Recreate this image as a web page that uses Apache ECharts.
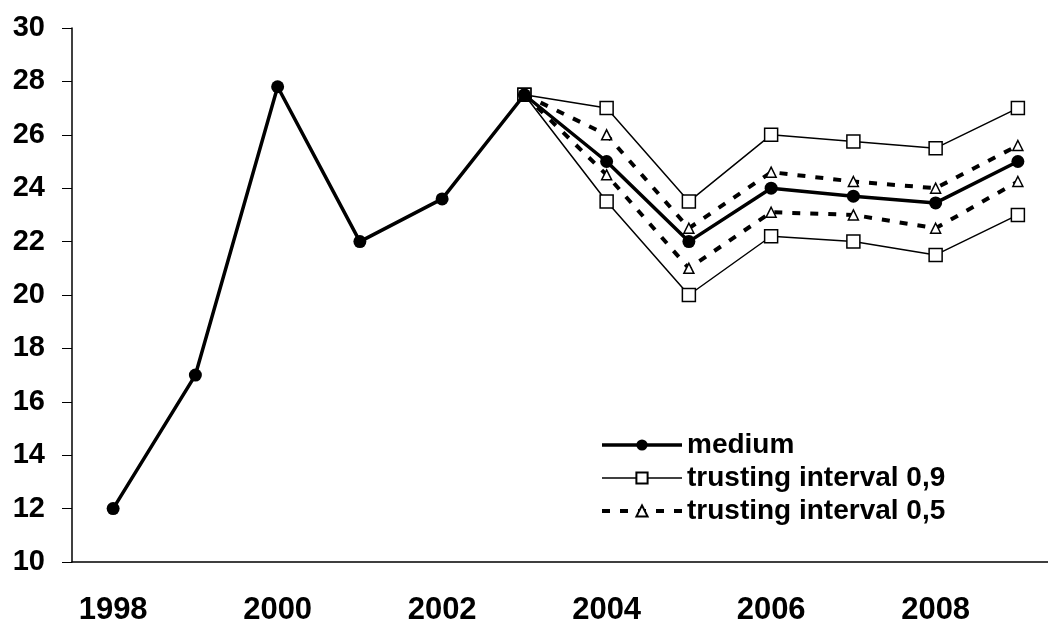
<!DOCTYPE html>
<html><head><meta charset="utf-8">
<script src="https://cdn.jsdelivr.net/npm/echarts@6/dist/echarts.min.js"></script>
<style>html,body{margin:0;padding:0;background:#fff;overflow:hidden;width:1048px;height:626px}#c{width:1059px;height:626px}</style>
</head><body><div id="c"></div>
<script>
const years = ['1998','1999','2000','2001','2002','2003','2004','2005','2006','2007','2008','2009'];
const medium = [12, 17, 27.8, 22, 23.6, 27.5, 25, 22, 24, 23.7, 23.45, 25];
const upper09 = [null, null, null, null, null, 27.5, 27, 23.5, 26, 25.75, 25.5, 27];
const lower09 = [null, null, null, null, null, 27.5, 23.5, 20, 22.2, 22, 21.5, 23];
const upper05 = [null, null, null, null, null, 27.5, 26, 22.5, 24.6, 24.25, 24, 25.6];
const lower05 = [null, null, null, null, null, 27.5, 24.5, 21, 23.1, 23, 22.5, 24.25];
const yTicks = {min: 10, max: 30, interval: 2};

const font = 'Liberation Sans, Arial, sans-serif';
const s09 = {type:'line', name:'trusting interval 0,9', symbol:'rect', symbolSize:13,
  itemStyle:{color:'#fff', borderColor:'#000', borderWidth:1.5}, lineStyle:{color:'#000', width:1.5}, z:2};
const s05 = {type:'line', name:'trusting interval 0,5', symbol:'triangle', symbolSize:10,
  itemStyle:{color:'#fff', borderColor:'#000', borderWidth:1.5}, lineStyle:{color:'#000', width:4, type:[8,10]}, z:3};
const chart = echarts.init(document.getElementById('c'));
chart.setOption({
  animation:false,
  backgroundColor:'#fff',
  grid:{left:72, right:0, top:28, bottom:64},
  legend:{
    left:595, top:426, orient:'vertical', itemWidth:80, itemHeight:14, itemGap:5,
    textStyle:{fontFamily:font, fontWeight:'bold', fontSize:28, color:'#000'},
    data:[
      {name:'medium', lineStyle:{width:3.5}},
      {name:'trusting interval 0,9', lineStyle:{width:1.5}},
      {name:'trusting interval 0,5', lineStyle:{width:4, type:[8,10]}}
    ]
  },
  xAxis:{type:'category', data:years, boundaryGap:true,
    axisLine:{lineStyle:{color:'#000', width:1.5}},
    axisTick:{interval:1, length:12, lineStyle:{color:'#000'}},
    axisLabel:{interval:1, margin:33, fontFamily:font, fontWeight:'bold', fontSize:31, color:'#000'}
  },
  yAxis:{type:'value', min:yTicks.min, max:yTicks.max, interval:yTicks.interval,
    splitLine:{show:false},
    axisLine:{show:true, lineStyle:{color:'#000', width:1.5}},
    axisTick:{show:true, length:10, lineStyle:{color:'#000'}},
    axisLabel:{margin:27, fontFamily:font, fontWeight:'bold', fontSize:29, color:'#000'}
  },
  series:[
    Object.assign({}, s09, {data:upper09}),
    Object.assign({}, s09, {data:lower09}),
    Object.assign({}, s05, {data:upper05}),
    Object.assign({}, s05, {data:lower05}),
    {type:'line', name:'medium', data:medium, symbol:'circle', symbolSize:13,
      itemStyle:{color:'#000'}, lineStyle:{color:'#000', width:3.5}, z:5}
  ]
});
</script></body></html>
